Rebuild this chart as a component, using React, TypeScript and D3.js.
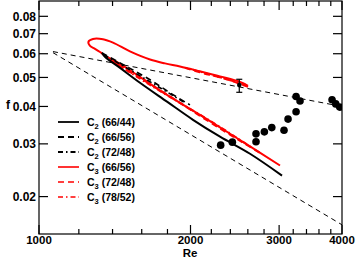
import React from 'react';
import * as d3 from 'd3';

// [Re, f] pairs
const c2_66_44: [number, number][] = [
  [1334, 0.0604], [1352, 0.0586], [1449, 0.0538], [1587, 0.048], [1796, 0.0415],
  [2023, 0.0361], [2289, 0.0317], [2626, 0.0278], [3040, 0.0235],
];
const c2_66_56: [number, number][] = [
  [1334, 0.0604], [1449, 0.0559], [1662, 0.0491], [1821, 0.0444], [1995, 0.0405],
];
const c2_72_48: [number, number][] = [
  [1346, 0.0595], [1516, 0.053], [1739, 0.0462], [1950, 0.0411],
];
const c3_66_56: [number, number][] = [
  [2602, 0.0469], [2508, 0.0483], [2289, 0.0504], [2089, 0.0524], [1906, 0.0544],
  [1780, 0.0557], [1662, 0.0574], [1516, 0.0611], [1403, 0.06535], [1340, 0.06705],
  [1280, 0.0672], [1254, 0.06585], [1263, 0.0637], [1292, 0.0623], [1322, 0.0608],
  [1352, 0.0592], [1449, 0.0555], [1587, 0.0502], [1796, 0.0437], [2089, 0.0375],
  [2508, 0.0309], [3012, 0.0254],
];
// null marks a break between the upper and lower branch
const c3_72_48: ([number, number] | null)[] = [
  [2602, 0.0465], [2342, 0.0495], [2089, 0.052], [1950, 0.0538], null,
  [1384, 0.0572], [1587, 0.0498], [1821, 0.0432], [2089, 0.0372], [2396, 0.0322], [2749, 0.028],
];
const c3_78_52: ([number, number] | null)[] = [
  [2578, 0.0472], [2237, 0.0506], [1995, 0.0534], null,
  [1416, 0.0559], [1662, 0.0472], [1906, 0.0411], [2237, 0.035], [2626, 0.0294],
];
const turbRef: [number, number][] = [[1066, 0.061], [4000, 0.04]];
const lamRef: [number, number][] = [[1066, 0.0605], [4000, 0.0161]];

const expRe = [2296, 2422, 2699, 2699, 2804, 2901, 3068, 3125, 3242, 3242, 3301, 3822, 3887, 3959];
const expF = [0.0297, 0.0304, 0.0305, 0.0324, 0.0329, 0.034, 0.0333, 0.0363, 0.0384, 0.0432, 0.0417, 0.0421, 0.0408, 0.0398];
const errPoint = { re: 2500, f: 0.0472, lo: 0.0446, hi: 0.0493 };

const xMajor = [1000, 2000, 3000, 4000];
const xMinor = [1200, 1400, 1600, 1800, 2200, 2400, 2600, 2800, 3200, 3400, 3600, 3800];
const yTicks = [0.02, 0.03, 0.04, 0.05, 0.06, 0.07, 0.08];

const legend = [
  { sub: '2', label: ' (66/44)', color: '#000', dash: '' },
  { sub: '2', label: ' (66/56)', color: '#000', dash: '6,4' },
  { sub: '2', label: ' (72/48)', color: '#000', dash: '5,3,1.5,3' },
  { sub: '3', label: ' (66/56)', color: '#ff0000', dash: '' },
  { sub: '3', label: ' (72/48)', color: '#ff0000', dash: '6,4' },
  { sub: '3', label: ' (78/52)', color: '#ff0000', dash: '5,3,1.5,3' },
];

export default function App() {
  const left = 39, right = 342, top = 1, bottom = 234;
  const x = d3.scaleLog().domain([1000, 4000]).range([left, right]);
  const y = d3.scaleLog().domain([0.015, 0.09]).range([bottom, top]);
  const broken = d3.line<[number, number] | null>()
    .defined(d => d !== null)
    .x(d => x(d![0]))
    .y(d => y(d![1]))
    .curve(d3.curveMonotoneX);
  const straight = d3.line<[number, number]>().x(d => x(d[0])).y(d => y(d[1]));
  const loop = d3.line<[number, number]>().x(d => x(d[0])).y(d => y(d[1])).curve(d3.curveCatmullRom);

  const font = "'Liberation Sans', Arial, sans-serif";

  return (
    <svg width={357} height={260} style={{ position: 'absolute', left: 0, top: 0, background: '#fff' }}
      fontFamily={font} fontWeight="bold">
      <defs>
        <clipPath id="plot"><rect x={left} y={top} width={right - left} height={bottom - top} /></clipPath>
      </defs>

      <g clipPath="url(#plot)" fill="none">
        <path d={straight(turbRef)!} stroke="#000" strokeWidth={1} strokeDasharray="5,4" />
        <path d={straight(lamRef)!} stroke="#000" strokeWidth={1} strokeDasharray="5,4" />
        <path d={loop(c3_66_56)!} stroke="#ff0000" strokeWidth={2} />
        <path d={broken(c3_72_48)!} stroke="#ff0000" strokeWidth={2} strokeDasharray="6,4" />
        <path d={broken(c3_78_52)!} stroke="#ff0000" strokeWidth={2} strokeDasharray="5,3,1.5,3" />
        <path d={loop(c2_66_44)!} stroke="#000" strokeWidth={2} />
        <path d={loop(c2_66_56)!} stroke="#000" strokeWidth={1.6} strokeDasharray="6,4" />
        <path d={loop(c2_72_48)!} stroke="#000" strokeWidth={1.6} strokeDasharray="5,3,1.5,3" />
        {expRe.map((r, i) => (
          <circle key={i} cx={x(r)} cy={y(expF[i])} r={3.8} fill="#000" />
        ))}
        <g stroke="#000" strokeWidth={1.2}>
          <line x1={x(errPoint.re)} x2={x(errPoint.re)} y1={y(errPoint.lo)} y2={y(errPoint.hi)} />
          <line x1={x(errPoint.re) - 3} x2={x(errPoint.re) + 3} y1={y(errPoint.lo)} y2={y(errPoint.lo)} />
          <line x1={x(errPoint.re) - 3} x2={x(errPoint.re) + 3} y1={y(errPoint.hi)} y2={y(errPoint.hi)} />
        </g>
        <circle cx={x(errPoint.re)} cy={y(errPoint.f)} r={2.3} fill="#000" />
      </g>

      {/* frame and ticks */}
      <g stroke="#000" strokeWidth={1.2}>
        <rect x={left} y={top} width={right - left} height={bottom - top} fill="none" />
        {xMajor.map(t => (
          <g key={t}>
            <line x1={x(t)} x2={x(t)} y1={bottom} y2={bottom - 9} />
            <line x1={x(t)} x2={x(t)} y1={top} y2={top + 9} />
          </g>
        ))}
        {xMinor.map(t => (
          <g key={t}>
            <line x1={x(t)} x2={x(t)} y1={bottom} y2={bottom - 5} />
            <line x1={x(t)} x2={x(t)} y1={top} y2={top + 5} />
          </g>
        ))}
        {yTicks.map(t => (
          <g key={t}>
            <line x1={left} x2={left + 9} y1={y(t)} y2={y(t)} />
            <line x1={right} x2={right - 9} y1={y(t)} y2={y(t)} />
          </g>
        ))}
      </g>

      <g fontSize={12} fill="#000">
        {xMajor.map(t => (
          <text key={t} x={x(t)} y={244} fontSize={11.5} textAnchor="middle">{t}</text>
        ))}
        {yTicks.map(t => (
          <text key={t} x={36} y={y(t) + 4.3} textAnchor="end">{d3.format('.2f')(t)}</text>
        ))}
        <text x={190} y={257} fontSize={11.5} textAnchor="middle">Re</text>
        <text x={6} y={109}>f</text>
      </g>

      <g fontSize={10.5}>
        {legend.map((l, i) => {
          const ly = 122 + i * 15;
          return (
            <g key={i}>
              <line x1={58} x2={79} y1={ly} y2={ly} stroke={l.color} strokeWidth={l.color === '#000' ? 1.8 : 1.6}
                strokeDasharray={l.dash || undefined} />
              <text x={87} y={ly + 4} fill="#000">
                C<tspan fontSize={7.5} dy={2.5}>{l.sub}</tspan><tspan dy={-2.5}>{l.label}</tspan>
              </text>
            </g>
          );
        })}
      </g>
    </svg>
  );
}
